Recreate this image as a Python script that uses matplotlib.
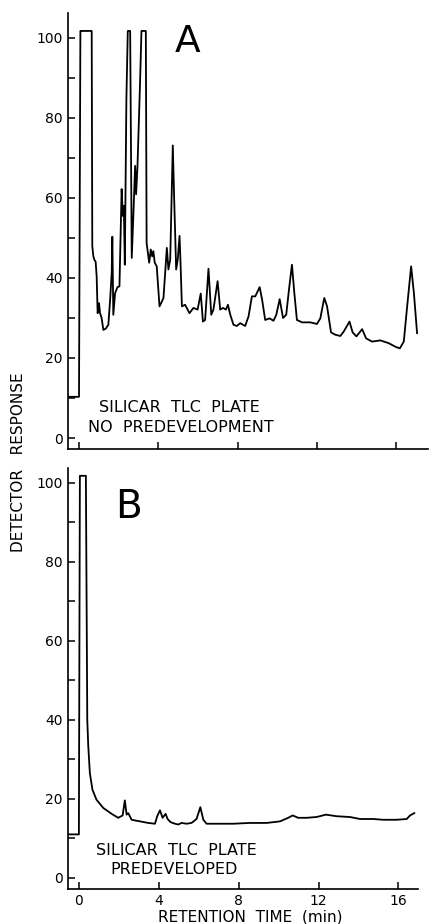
import matplotlib
matplotlib.use("Agg")
from matplotlib import pyplot as plt
from matplotlib.ticker import MultipleLocator

# panel A: no predevelopment (retention time in min, detector response)
time_a = [-0.54, 0.0, 0.07, 0.12, 0.64, 0.67, 0.72, 0.77, 0.84, 0.89, 0.94, 1.01, 1.06, 1.14,
          1.23, 1.36, 1.48, 1.57, 1.65, 1.68, 1.73, 1.82, 1.94, 2.04, 2.15, 2.21,
          2.26, 2.31, 2.39, 2.46, 2.58, 2.66, 2.74, 2.83, 2.88, 2.95, 3.08, 3.15,
          3.37, 3.41, 3.54, 3.62, 3.69, 3.75, 3.82, 3.92, 4.06, 4.18, 4.26, 4.43,
          4.51, 4.60, 4.73, 4.80, 4.90, 4.98, 5.07, 5.12, 5.19, 5.35, 5.57, 5.77,
          5.98, 6.14, 6.25, 6.36, 6.53, 6.67, 6.78, 6.99, 7.12, 7.26, 7.41, 7.51,
          7.63, 7.79, 7.96, 8.13, 8.38, 8.55, 8.72, 8.89, 9.11, 9.23, 9.39, 9.61,
          9.81, 9.95, 10.12, 10.29, 10.45, 10.59, 10.74, 10.86, 10.99, 11.25, 11.67,
          12.00, 12.17, 12.37, 12.51, 12.71, 12.93, 13.18, 13.35, 13.64, 13.80,
          13.99, 14.28, 14.48, 14.78, 15.20, 15.62, 15.96, 16.18, 16.38, 16.55,
          16.75, 16.89, 17.05]
resp_a = [10.3, 10.3, 101.7, 101.7, 101.7, 48.0, 45.5, 44.6, 44.0, 40.4, 31.2, 33.7, 31.2, 30.0,
          27.0, 27.4, 28.3, 34.6, 41.3, 50.3, 30.8, 36.2, 37.7, 37.9, 62.2, 55.5,
          58.0, 43.3, 84.8, 101.7, 101.7, 45.0, 55.5, 68.0, 60.9, 68.0, 89.0, 101.7,
          101.7, 48.7, 43.8, 47.1, 45.4, 46.7, 43.8, 42.9, 32.9, 34.1, 35.0, 47.5,
          42.1, 44.6, 73.1, 59.7, 42.1, 44.6, 50.5, 43.8, 32.9, 33.3, 31.2, 32.5,
          32.1, 36.1, 29.1, 29.5, 42.3, 30.8, 32.1, 39.2, 32.1, 32.5, 32.1, 33.3,
          30.8, 28.3, 28.0, 28.7, 28.0, 30.4, 35.4, 35.4, 37.7, 34.7, 29.5, 29.9,
          29.3, 30.8, 34.7, 30.0, 30.8, 37.1, 43.3, 36.2, 29.5, 28.9, 28.9,
          28.5, 29.9, 35.0, 32.9, 26.4, 25.8, 25.5, 26.6, 29.1, 26.4,
          25.4, 27.2, 24.9, 24.1, 24.4, 23.7, 22.8, 22.4, 24.1, 32.9,
          42.9, 36.2, 26.2]

# panel B: predeveloped plate
time_b = [-0.53, 0.0, 0.05, 0.10, 0.35, 0.42, 0.47, 0.55, 0.68, 0.88, 1.22, 1.64, 1.97,
          2.19, 2.30, 2.39, 2.47, 2.64, 3.06, 3.47, 3.81, 3.92, 4.06, 4.19, 4.34,
          4.44, 4.59, 4.81, 4.97, 5.14, 5.39, 5.64, 5.89, 6.08, 6.23, 6.39, 6.89,
          7.73, 8.56, 9.40, 10.07, 10.48, 10.70, 10.98, 11.40, 11.90, 12.37, 12.90,
          13.57, 14.07, 14.74, 15.24, 15.91, 16.41, 16.58, 16.79]
resp_b = [11.0, 11.0, 101.8, 101.8, 101.8, 40.0, 33.3, 26.5, 22.3, 19.8, 17.7, 16.2, 15.2,
          15.8, 19.6, 16.0, 16.4, 14.7, 14.3, 13.9, 13.7, 15.6, 17.1, 15.2, 16.2,
          14.9, 14.1, 13.7, 13.5, 13.9, 13.7, 13.9, 14.9, 17.9, 14.7, 13.7, 13.7,
          13.7, 13.9, 13.9, 14.3, 15.2, 15.8, 15.2, 15.2, 15.4, 16.0, 15.6,
          15.4, 14.9, 14.9, 14.7, 14.7, 14.9, 15.8, 16.4]

xticks = [0, 4, 8, 12, 16]
yticks = [0, 20, 40, 60, 80, 100]

fig = plt.figure(figsize=(4.31, 9.24), dpi=100)
ax_a = fig.add_axes([0.158, 0.514, 0.835, 0.472])
ax_b = fig.add_axes([0.158, 0.038, 0.812, 0.4556])

for ax in (ax_a, ax_b):
    for side in ("top", "right"):
        ax.spines[side].set_visible(False)
    ax.spines["left"].set_linewidth(1.2)
    ax.spines["bottom"].set_linewidth(1.2)
    ax.set_xticks(xticks)
    ax.set_yticks(yticks)
    ax.yaxis.set_minor_locator(MultipleLocator(10))
    ax.tick_params(direction="in", length=5, width=1.1, labelsize=10, pad=4)
    ax.tick_params(which="minor", direction="in", length=5, width=1.1)

ax_a.plot(time_a, resp_a, color="black", lw=1.3)
ax_a.set_xlim(-0.55, 17.6)
ax_a.set_ylim(-2.75, 106.2)
ax_a.tick_params(axis="x", labelbottom=False)
ax_a.text(5.45, 99, "A", fontsize=27, ha="center", va="center")
ax_a.text(5.08, 7.7, "SILICAR  TLC  PLATE", fontsize=11.5, ha="center", va="center")
ax_a.text(5.13, 2.75, "NO  PREDEVELOPMENT", fontsize=11.5, ha="center", va="center")

ax_b.plot(time_b, resp_b, color="black", lw=1.3)
ax_b.set_xlim(-0.54, 16.98)
ax_b.set_ylim(-2.8, 103.8)
ax_b.text(2.5, 93.8, "B", fontsize=28, ha="center", va="center")
ax_b.text(4.86, 6.9, "SILICAR  TLC  PLATE", fontsize=11.5, ha="center", va="center")
ax_b.text(4.76, 2.2, "PREDEVELOPED", fontsize=11.5, ha="center", va="center")

fig.text(0.044, 1 - 462 / 924, "DETECTOR   RESPONSE", rotation=90, fontsize=11,
         ha="center", va="center")
fig.text(250 / 431, 1 - 917 / 924, "RETENTION  TIME  (min)", fontsize=11,
         ha="center", va="center")

fig.savefig("out.png", dpi=100)
